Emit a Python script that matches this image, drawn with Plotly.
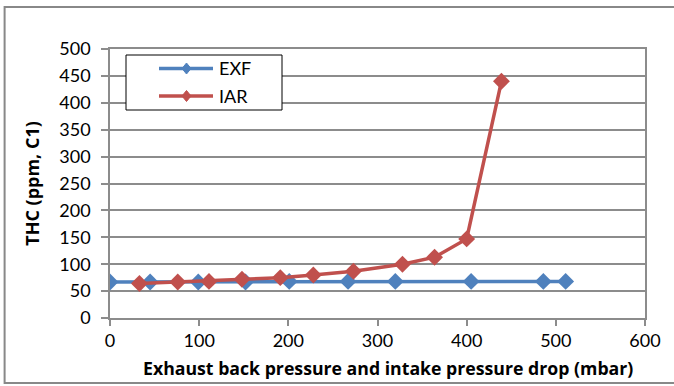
import plotly.graph_objects as go

# Exhaust back pressure (EXF) and intake pressure drop (IAR), mbar
exf_x = [0, 45, 99, 152, 201, 267, 320, 405, 486, 511]
exf_thc = [67, 67, 67, 67, 68, 68, 68, 68, 68, 68]

iar_x = [33, 76, 111, 148, 191, 228, 273, 328, 364, 400, 439]
iar_thc = [64, 67, 68, 72, 75, 80, 87, 100, 113, 147, 440]

x_ticks = [0, 100, 200, 300, 400, 500, 600]
y_ticks = [0, 50, 100, 150, 200, 250, 300, 350, 400, 450, 500]

series_names = ["EXF", "IAR"]
series_colors = ["#4F81BD", "#C0504D"]

FONT = "Lato, sans-serif"
TITLE_FONT = "Open Sans, sans-serif"
GRID = "#8c8c8c"

# plot-area geometry in pixels (used to place the hand-drawn legend box)
W, H = 674, 386
ML, MR, MT, MB = 110, 29, 49, 68
PW, PH = W - ML - MR, H - MT - MB


def px(xp):
    return (xp - ML) / PW


def py(yp):
    return (H - MB - yp) / PH


fig = go.Figure()
for name, color, xs, ys in zip(series_names, series_colors,
                               [exf_x, iar_x], [exf_thc, iar_thc]):
    fig.add_trace(go.Scatter(
        x=xs, y=ys, name=name, mode="lines+markers",
        line=dict(color=color, width=3.5),
        marker=dict(symbol="diamond", size=13, color=color),
        showlegend=False,
    ))

# legend: bordered box with line + diamond samples
shapes = [
    dict(type="rect", xref="paper", yref="paper",
         x0=-0.197, x1=1.2, y0=py(383), y1=py(7),
         line=dict(color="#888888", width=2), fillcolor="rgba(0,0,0,0)",
         layer="below"),
    dict(type="rect", xref="paper", yref="paper",
         x0=px(126), x1=px(282), y0=py(110), y1=py(55),
         line=dict(color="black", width=1), fillcolor="white", layer="above"),
]
annotations = []
for name, color, yrow in zip(series_names, series_colors, [68.5, 96]):
    shapes.append(dict(type="line", xref="paper", yref="paper",
                       x0=px(159), x1=px(213), y0=py(yrow), y1=py(yrow),
                       line=dict(color=color, width=3.5), layer="above"))
    shapes.append(dict(type="path", xref="paper", yref="paper",
                       xsizemode="pixel", ysizemode="pixel",
                       xanchor=px(186.5), yanchor=py(yrow),
                       path="M 0 5.5 L 4.5 0 L 0 -5.5 L -4.5 0 Z",
                       fillcolor=color, line=dict(color=color, width=1),
                       layer="above"))
    annotations.append(dict(xref="paper", yref="paper", x=px(217), y=py(yrow),
                            xanchor="left", yanchor="middle", text=name,
                            showarrow=False, font=dict(size=18, family=FONT)))

# x-axis title
annotations.append(dict(
    xref="paper", yref="paper", x=px(387.5), y=py(368),
    xanchor="center", yanchor="middle", showarrow=False,
    text="<b>Exhaust back pressure and intake pressure drop (mbar)</b>",
    font=dict(size=17.7, family=TITLE_FONT),
))

fig.update_layout(
    width=W, height=H,
    margin=dict(l=ML, r=MR, t=MT, b=MB),
    paper_bgcolor="white", plot_bgcolor="white",
    font=dict(family=FONT, size=18, color="black"),
    showlegend=False,
    xaxis=dict(
        range=[0, 600], tickvals=x_ticks, ticktext=[str(v) for v in x_ticks],
        showgrid=False, zeroline=False,
        showline=True, linecolor=GRID, linewidth=1.5, mirror=True,
        ticks="outside", ticklen=6, tickcolor=GRID, tickwidth=1.5,
        tickfont=dict(size=18),
    ),
    yaxis=dict(
        range=[0, 500], tickvals=y_ticks, ticktext=[str(v) for v in y_ticks],
        showgrid=True, gridcolor=GRID, gridwidth=1.5, zeroline=False,
        showline=True, linecolor=GRID, linewidth=1.5, mirror=True,
        ticks="outside", ticklen=7, tickcolor=GRID, tickwidth=1.5,
        ticklabelstandoff=7,
        tickfont=dict(size=18),
        title=dict(text="<b>THC (ppm, C1)</b>",
                   font=dict(size=18, family=TITLE_FONT), standoff=15),
    ),
    shapes=shapes,
    annotations=annotations,
)

fig.write_html("out.html")
